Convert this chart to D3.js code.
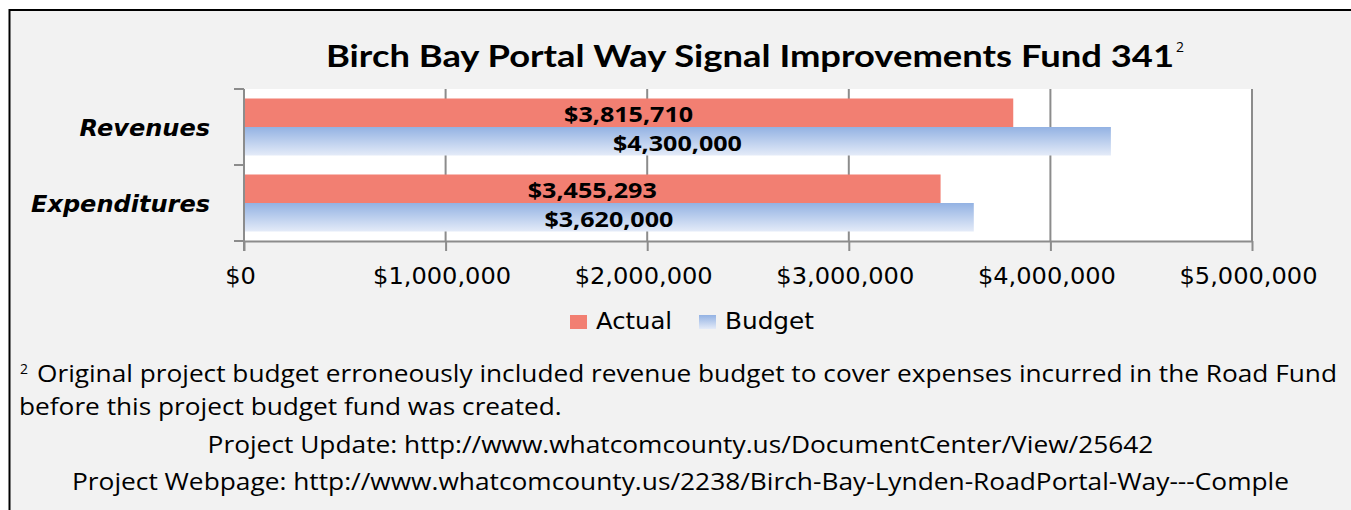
<!DOCTYPE html>
<html>
<head>
<meta charset="utf-8">
<script src="https://cdn.jsdelivr.net/npm/d3@7"></script>
<style>
  html, body { margin: 0; padding: 0; background: #fff; }
  svg { display: block; }
</style>
</head>
<body>
<svg id="chart" width="1351" height="510"></svg>
<script>
// ---- data ----
const categories = ["Revenues", "Expenditures"];
const seriesNames = ["Actual", "Budget"];
const actualValues = [3815710, 3455293];
const budgetValues = [4300000, 3620000];
const xTickValues = [0, 1000000, 2000000, 3000000, 4000000, 5000000];
const titleText = "Birch Bay Portal Way Signal Improvements Fund 341";
const titleNoteMark = "2";
const footnoteMark = "2";
const footnoteLines = [
  "Original project budget erroneously included revenue budget to cover expenses incurred in the Road Fund",
  "before this project budget fund was created."
];
const linkLines = [
  "Project Update: http://www.whatcomcounty.us/DocumentCenter/View/25642",
  "Project Webpage: http://www.whatcomcounty.us/2238/Birch-Bay-Lynden-RoadPortal-Way---Comple"
];

// ---- layout & style ----
const W = 1351, H = 510;
const plot = { left: 244, right: 1252, top: 89, bottom: 241 };
const colors = { actual: "#f27f72", budgetTop: "#93b2e3", budgetBottom: "#e4ebf8",
                 frame: "#f2f2f2", axis: "#8c8c8c", text: "#000" };
const FONT_SANS = "'Open Sans', sans-serif";
const FONT_WIDE = "'DejaVu Sans', sans-serif";
const FONT_TITLE = "Lato, 'Open Sans', sans-serif";

// stretch helpers: squeeze or widen text horizontally to a given width
function fitTo(sel, width) {
  sel.attr("textLength", width).attr("lengthAdjust", "spacingAndGlyphs");
}
function stretchBy(sel, k) {
  sel.each(function () {
    const w = this.getComputedTextLength();
    this.setAttribute("textLength", w * k);
    this.setAttribute("lengthAdjust", "spacingAndGlyphs");
  });
}
function scaleGroup(sel, sampleNode, targetWidth) {
  const k = targetWidth / sampleNode.getComputedTextLength();
  stretchBy(sel, k);
  return k;
}

const svg = d3.select("#chart");
const defs = svg.append("defs");
const grad = defs.append("linearGradient").attr("id", "budgetFill")
  .attr("x1", 0).attr("y1", 0).attr("x2", 0).attr("y2", 1);
grad.append("stop").attr("offset", "0%").attr("stop-color", colors.budgetTop);
grad.append("stop").attr("offset", "100%").attr("stop-color", colors.budgetBottom);
const fillFor = s => s === "Actual" ? colors.actual : "url(#budgetFill)";

// page and chart frame
svg.append("rect").attr("width", W).attr("height", H).attr("fill", "#fff");
svg.append("rect").attr("x", 9.5).attr("y", 10).attr("width", W + 10).attr("height", H + 10)
  .attr("fill", colors.frame).attr("stroke", "#000").attr("stroke-width", 2);

// ---- scales ----
const x = d3.scaleLinear().domain([0, 5000000]).range([plot.left, plot.right]);
const y = d3.scaleBand().domain(categories).range([plot.top, plot.bottom])
  .paddingInner(0.25).paddingOuter(0.125);
const ys = d3.scaleBand().domain(seriesNames).range([0, y.bandwidth()]);

const rows = categories.map((c, i) => ({ category: c, Actual: actualValues[i], Budget: budgetValues[i] }));

// plot area
svg.append("rect").attr("x", plot.left).attr("y", plot.top)
  .attr("width", plot.right - plot.left).attr("height", plot.bottom - plot.top).attr("fill", "#fff");

// vertical gridlines
svg.append("g").selectAll("line").data(xTickValues.slice(1)).join("line")
  .attr("x1", d => x(d)).attr("x2", d => x(d))
  .attr("y1", plot.top).attr("y2", plot.bottom)
  .attr("stroke", colors.axis).attr("stroke-width", 2);

// bars
const groups = svg.append("g").selectAll("g").data(rows).join("g")
  .attr("transform", d => `translate(0,${y(d.category)})`);
groups.selectAll("rect").data(d => seriesNames.map(s => ({ s, v: d[s] }))).join("rect")
  .attr("x", x(0)).attr("y", d => ys(d.s))
  .attr("width", d => x(d.v) - x(0)).attr("height", ys.bandwidth())
  .attr("fill", d => fillFor(d.s));

// value labels
const fmtMoney = d3.format("$,");
const valueLabels = groups.selectAll("text").data(d => seriesNames.map(s => ({ s, v: d[s] }))).join("text")
  .attr("x", d => (x(0) + x(d.v)) / 2)
  .attr("y", d => ys(d.s) + ys.bandwidth() / 2 + 9.5)
  .attr("text-anchor", "middle")
  .attr("font-family", FONT_SANS).attr("font-weight", "bold").attr("font-size", 21)
  .attr("fill", colors.text)
  .text(d => fmtMoney(d.v));
scaleGroup(valueLabels, valueLabels.node(), 129);

// x axis
const xAxis = svg.append("g").attr("transform", `translate(0,${plot.bottom})`)
  .call(d3.axisBottom(x).tickValues(xTickValues).tickFormat(fmtMoney).tickSize(10).tickSizeOuter(0));
xAxis.select(".domain").attr("stroke", colors.axis).attr("stroke-width", 2);
xAxis.selectAll(".tick line").attr("stroke", colors.axis).attr("stroke-width", 2);
const tickText = xAxis.selectAll(".tick text")
  .attr("y", 43).attr("dy", null).attr("dx", -4)
  .attr("font-family", FONT_WIDE).attr("font-size", 23).attr("fill", colors.text);
scaleGroup(tickText, tickText.nodes()[1], 138);

// category axis: line with ticks on the category boundaries
const bounds = categories.map(c => y(c) - y.step() * y.paddingInner() / 2).concat([plot.bottom]);
const yAxis = svg.append("g");
yAxis.append("line").attr("x1", plot.left).attr("x2", plot.left)
  .attr("y1", plot.top).attr("y2", plot.bottom + 10)
  .attr("stroke", colors.axis).attr("stroke-width", 2);
yAxis.selectAll("line.tick").data(bounds).join("line").attr("class", "tick")
  .attr("x1", plot.left - 10).attr("x2", plot.left).attr("y1", d => d).attr("y2", d => d)
  .attr("stroke", colors.axis).attr("stroke-width", 2);
const catLabels = yAxis.selectAll("text").data(categories).join("text")
  .attr("x", plot.left - 34).attr("y", d => y(d) + y.bandwidth() / 2 + 8.5)
  .attr("text-anchor", "end")
  .attr("font-family", FONT_WIDE).attr("font-weight", "bold").attr("font-style", "italic")
  .attr("font-size", 23).attr("fill", colors.text)
  .text(d => d);
scaleGroup(catLabels, catLabels.nodes()[1], 179);

// title
const title = svg.append("text").attr("x", 326).attr("y", 67)
  .attr("font-family", FONT_TITLE).attr("font-weight", "bold").attr("font-size", 31)
  .attr("fill", colors.text).text(titleText);
fitTo(title, 848);
svg.append("text").attr("x", 1176).attr("y", 52)
  .attr("font-family", FONT_SANS).attr("font-size", 14).attr("fill", colors.text).text(titleNoteMark);

// legend
const legendItems = seriesNames.map((s, i) => ({ s, swatchX: [570, 699][i], width: [76, 89][i] }));
const legend = svg.append("g");
legend.selectAll("rect").data(legendItems).join("rect")
  .attr("x", d => d.swatchX).attr("y", 315).attr("width", 17).attr("height", 14)
  .attr("fill", d => fillFor(d.s));
const legendText = legend.selectAll("text").data(legendItems).join("text")
  .attr("x", d => d.swatchX + 26).attr("y", 329)
  .attr("font-family", FONT_WIDE).attr("font-size", 23).attr("fill", colors.text)
  .text(d => d.s);
legendText.each(function (d) { fitTo(d3.select(this), d.width); });

// footnote: both lines share one horizontal scale, set by the first (full-width) line
const note = svg.append("g").attr("font-family", FONT_SANS).attr("fill", colors.text);
note.append("text").attr("x", 20).attr("y", 374).attr("font-size", 14).text(footnoteMark);
const noteStart = [37, 19], noteBase = [382, 415];
const noteText = note.selectAll("text.line").data(footnoteLines).join("text").attr("class", "line")
  .attr("x", (d, i) => noteStart[i]).attr("y", (d, i) => noteBase[i])
  .attr("font-size", 23.5).text(d => d);
scaleGroup(noteText, noteText.nodes()[0], 1300);

// project links, centred under the chart
const linkBase = [453, 490];
const linkText = note.selectAll("text.link").data(linkLines).join("text").attr("class", "link")
  .attr("x", 680.5).attr("y", (d, i) => linkBase[i])
  .attr("text-anchor", "middle").attr("font-size", 23.5).text(d => d);
scaleGroup(linkText, linkText.nodes()[1], 1217);
</script>
</body>
</html>
